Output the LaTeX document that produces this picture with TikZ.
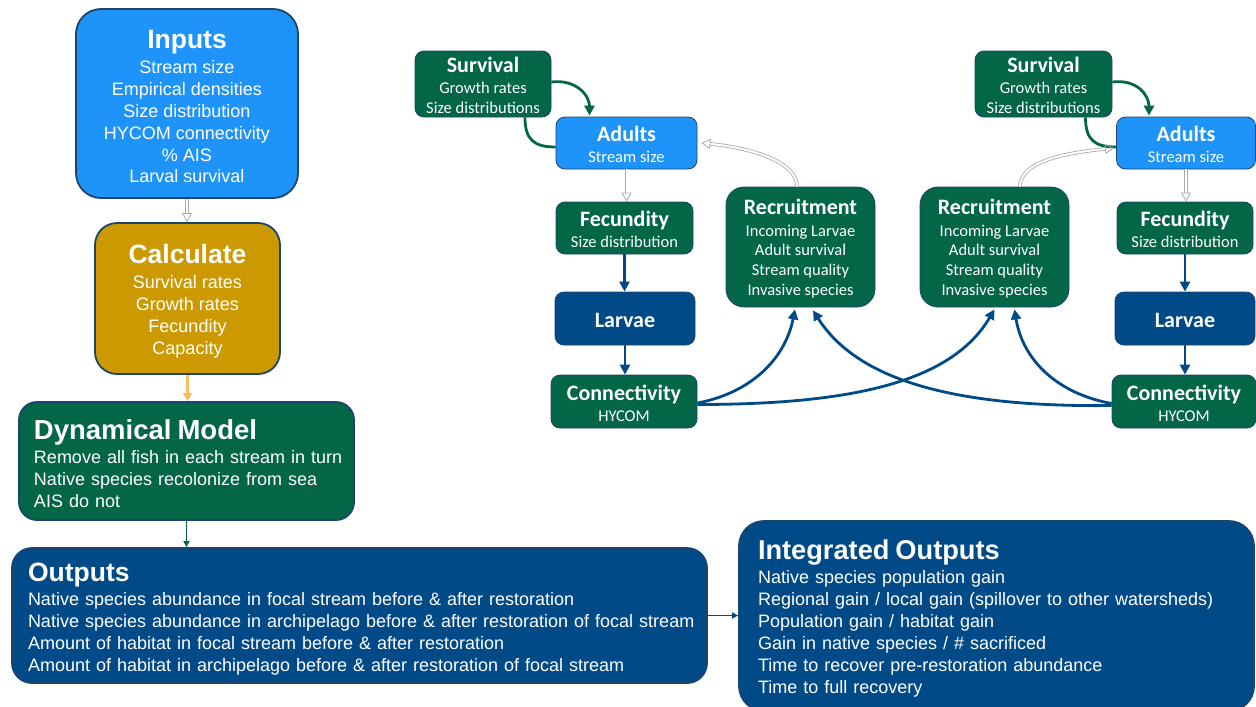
\documentclass[tikz,border=0pt]{standalone}
\usepackage{fontspec}
\setmainfont{Liberation Sans}
\newfontfamily\calibfont{Carlito}
\usetikzlibrary{arrows.meta}
\definecolor{lblue}{RGB}{30,148,250}
\definecolor{dgreen}{RGB}{3,102,70}
\definecolor{dblue}{RGB}{0,74,135}
\definecolor{gold}{RGB}{204,153,0}
\definecolor{navy}{RGB}{28,68,110}
\definecolor{lorange}{RGB}{250,190,95}
\definecolor{hgray}{RGB}{170,170,170}
\newcommand{\ttl}[2][26.5]{{\fontsize{#1}{30}\selectfont\bfseries\rule{0pt}{25pt}#2}}
\newcommand{\rttl}[1]{{\fontsize{22}{24}\selectfont\bfseries\rule{0pt}{18.5pt}#1}}
\tikzset{
  bigbox/.style={draw=navy, line width=1.8pt, text=white, inner sep=0pt, font=\fontsize{18}{21.9}\selectfont},
  cbox/.style={bigbox, align=center},
  smallbox/.style={draw=navy, line width=0.8pt, text=white, inner sep=0pt, align=center, rounded corners=9pt, font=\calibfont\fontsize{16.5}{19.8}\selectfont},
  barrow/.style={draw=dblue, line width=2.8pt, -{Triangle[length=10pt, width=10pt]}},
  garrow/.style={draw=dgreen, line width=2.8pt},
  hollow/.style={draw=hgray, double=white, line width=0.8pt, double distance=2pt, -{Triangle[open, length=9pt, width=10pt, line width=0.8pt]}},
  oarrow/.style={draw=lorange, line width=3pt, -{Triangle[length=8pt, width=9pt]}},
  tharrow/.style={line width=1.5pt, -{Triangle[length=6pt, width=6pt]}}
}
\begin{document}
\begin{tikzpicture}[x=1pt,y=-1pt]
\useasboundingbox (0,0) rectangle (1256,707);
\clip (0,0) rectangle (1256,707);

% ---------- left column ----------
\node[cbox, fill=lblue, rounded corners=25pt, minimum width=222pt, minimum height=189pt] (inputs) at (187,103.5)
  {\ttl{Inputs}\\[2.7pt] Stream size\\ Empirical densities\\ Size distribution\\ HYCOM connectivity\\ \% AIS\\ Larval survival};
\node[cbox, fill=gold, rounded corners=22pt, minimum width=185pt, minimum height=151pt] (calc) at (187.5,298.5)
  {\ttl{Calculate}\\[2.7pt] Survival rates\\ Growth rates\\ Fecundity\\ Capacity};
\node[bigbox, fill=dgreen, rounded corners=18pt, minimum width=335pt, minimum height=118pt, text width=305pt, align=left, inner xsep=15pt] (dyn) at (186.5,461)
  {\ttl[27.5]{Dynamical Model}\\[2.3pt] \mbox{Remove all fish in each stream in turn}\\ \mbox{Native species recolonize from sea}\\ AIS do not};
\node[bigbox, fill=dblue, rounded corners=20pt, minimum width=695pt, minimum height=135pt, text width=663pt, align=left, inner xsep=16pt] (outputs) at (359.5,615.5)
  {\ttl{Outputs}\\[2.3pt] \mbox{Native species abundance in focal stream before \& after restoration}\\ \mbox{Native species abundance in archipelago before \& after restoration of focal stream}\\ \mbox{Amount of habitat in focal stream before \& after restoration}\\ \mbox{Amount of habitat in archipelago before \& after restoration of focal stream}};
\node[bigbox, fill=dblue, rounded corners=25pt, minimum width=515pt, minimum height=190pt, text width=477pt, align=left, inner xsep=19pt] (integ) at (996.5,616)
  {\ttl[27.2]{Integrated Outputs}\\[2.3pt] Native species population gain\\ \mbox{Regional gain / local gain (spillover to other watersheds)}\\ Population gain / habitat gain\\ Gain in native species / \# sacrificed\\ Time to recover pre-restoration abundance\\ Time to full recovery};

\draw[hollow] (inputs.south) -- (inputs.south |- calc.north);
\draw[oarrow] (calc.south) -- (calc.south |- dyn.north);
\draw[tharrow, draw=dgreen] (dyn.south) -- (dyn.south |- outputs.north);
\draw[tharrow, draw=dblue] (outputs.east) -- (outputs.east -| integ.west);

% ---------- left cluster ----------
\node[smallbox, fill=dgreen, minimum width=136pt, minimum height=66pt] (survL) at (483,84)
  {\rttl{Survival}\\[1pt] Growth rates\\ Size distributions};
\node[smallbox, fill=lblue, minimum width=141pt, minimum height=52pt] (adL) at (626.5,143)
  {\rttl{Adults}\\[1.5pt] Stream size};
\node[smallbox, fill=dgreen, minimum width=137pt, minimum height=52pt] (fecL) at (624.5,228)
  {\rttl{Fecundity}\\[1pt] Size distribution};
\node[smallbox, fill=dblue, minimum width=140pt, minimum height=53pt] (larL) at (625,318.5)
  {\rttl{Larvae}};
\node[smallbox, fill=dgreen, minimum width=146pt, minimum height=53pt] (conL) at (624,401.5)
  {\rttl{Connectivity}\\[1pt] HYCOM};
\node[smallbox, fill=dgreen, rounded corners=18pt, minimum width=149pt, minimum height=120pt] (recL) at (800.5,247)
  {\rttl{Recruitment}\\[2pt] Incoming Larvae\\ Adult survival\\ Stream quality\\ Invasive species};

% ---------- right cluster ----------
\node[smallbox, fill=dgreen, minimum width=137pt, minimum height=66pt] (survR) at (1043.5,84)
  {\rttl{Survival}\\[1pt] Growth rates\\ Size distributions};
\node[smallbox, fill=lblue, minimum width=139pt, minimum height=52pt] (adR) at (1186,143)
  {\rttl{Adults}\\[1.5pt] Stream size};
\node[smallbox, fill=dgreen, minimum width=136pt, minimum height=52pt] (fecR) at (1185,228)
  {\rttl{Fecundity}\\[1pt] Size distribution};
\node[smallbox, fill=dblue, minimum width=140pt, minimum height=53pt] (larR) at (1185,318.5)
  {\rttl{Larvae}};
\node[smallbox, fill=dgreen, minimum width=144pt, minimum height=53pt] (conR) at (1184,401.5)
  {\rttl{Connectivity}\\[1pt] HYCOM};
\node[smallbox, fill=dgreen, rounded corners=18pt, minimum width=149pt, minimum height=120pt] (recR) at (994.5,247)
  {\rttl{Recruitment}\\[2pt] Incoming Larvae\\ Adult survival\\ Stream quality\\ Invasive species};

% green survival connectors
\draw[garrow, -{Triangle[length=10pt, width=10pt]}] ([yshift=2pt]survL.east) .. controls +(25,-3) and +(0,-20) .. ([xshift=-37pt, yshift=1pt]adL.north);
\draw[garrow] ([xshift=42pt]survL.south) .. controls +(0,22) and +(-22,0) .. ([yshift=-4pt]adL.west);
\draw[garrow, -{Triangle[length=10pt, width=10pt]}] ([yshift=2pt]survR.east) .. controls +(25,-3) and +(0,-20) .. ([xshift=-37pt, yshift=1pt]adR.north);
\draw[garrow] ([xshift=42pt]survR.south) .. controls +(0,22) and +(-22,0) .. ([yshift=-4pt]adR.west);

% hollow arrows
\draw[hollow] (adL.south) -- (adL.south |- fecL.north);
\draw[hollow] (adR.south) -- (adR.south |- fecR.north);
\draw[hollow] ([xshift=-3.5pt]recL.north) .. controls +(0,-25) and +(50,5) .. ([xshift=4pt]adL.east);
\draw[hollow] ([xshift=25.5pt]recR.north) .. controls +(0,-25) and +(-50,5) .. ([xshift=-2pt,yshift=-5pt]adR.west);

% blue arrows
\draw[barrow] (fecL.south) -- (fecL.south |- larL.north);
\draw[barrow] (larL.south) -- (larL.south |- conL.north);
\draw[barrow] (fecR.south) -- (fecR.south |- larR.north);
\draw[barrow] (larR.south) -- (larR.south |- conR.north);

\draw[barrow] ([yshift=-1.5pt]conL.east) .. controls +(53,-10) and +(-10,50) .. ([xshift=-5.5pt,yshift=-2pt]recL.south);
\draw[barrow] ([yshift=-3pt]conL.east) .. controls +(160,0) and +(-42,71) .. ([yshift=-2pt]recR.south);
\draw[barrow] ([yshift=-4pt]conR.west) .. controls +(-160,2) and +(44,69) .. ([xshift=12.5pt,yshift=-3pt]recL.south);
\draw[barrow] ([yshift=-2pt]conR.west) .. controls +(-55,-10) and +(8,50) .. ([xshift=20pt,yshift=-2pt]recR.south);
\end{tikzpicture}
\end{document}
